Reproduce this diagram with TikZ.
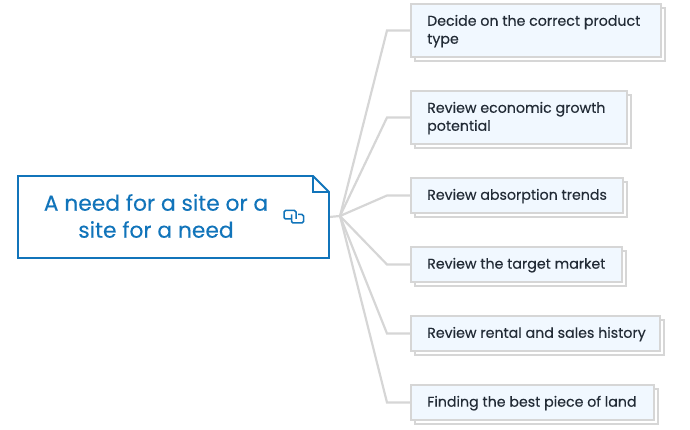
\documentclass[tikz,border=0pt]{standalone}
\usepackage{fontspec}
\setmainfont[RawFeature={embolden=0.2}]{Poppins}
\usetikzlibrary{shadows}
\definecolor{rootblue}{RGB}{17,116,186}
\definecolor{linegray}{RGB}{214,214,214}
\definecolor{boxfill}{RGB}{241,248,255}
\definecolor{inktext}{RGB}{34,43,54}
\tikzset{
  x=1pt,y=-1pt,
  detailbox/.style={draw=linegray,line width=2pt,fill=boxfill,anchor=north west,
    inner sep=0pt,outer sep=0pt,
    copy shadow={shadow xshift=4pt,shadow yshift=-4pt,draw=linegray,fill=white,opacity=1}},
  detailtext/.style={anchor=west,inner sep=0pt,align=left,text=inktext,
    font=\fontsize{14.2}{18}\selectfont},
  rootbox/.style={anchor=north west,inner sep=0pt,outer sep=0pt},
  roottext/.style={anchor=center,inner sep=0pt,text=rootblue,align=center,
    font=\fontsize{21.8}{27}\selectfont},
  link/.style={draw=linegray,line width=2.2pt},
  rootline/.style={draw=rootblue,line width=1.8pt},
  iconline/.style={draw=rootblue,line width=1.5pt,rounded corners=1.5pt}
}
\begin{document}
\begin{tikzpicture}
  \useasboundingbox (0,0) rectangle (690,430);
  % root topic
  \node[rootbox,minimum width=311pt,minimum height=82pt] (root) at (18,176) {};
  \node[roottext] (title) at (156,216) {A need for a site or a\\site for a need};
  \coordinate (hub) at (340,216);
  \draw[link] (root.east) -- (hub);
  % detail boxes
  \foreach \i/\y/\w/\h/\t in {1/4/250/53/{Decide on the correct product\\type},2/91/216/53/{Review economic growth\\potential},3/178/212/35/{Review absorption trends},4/247/211/35/{Review the target market},5/316/249/35/{Review rental and sales history},6/385/243/35/{Finding the best piece of land}}
  {
    \node[detailbox,minimum width=\w pt,minimum height=\h pt] (d\i) at (411,\y) {};
    \node[detailtext] (t\i) at ([xshift=16pt,yshift=-0.7pt]d\i.west) {\t};
    \draw[link] (hub) -- ([xshift=-24pt]d\i.west) -- (d\i.west);
  }
  % note outline with folded corner
  \draw[rootline] (root.south west) -- (root.north west) -- ([xshift=-16pt]root.north east) -- ([yshift=-16pt]root.north east) -- (root.south east) -- cycle;
  \draw[rootline] ([xshift=-16pt]root.north east) -- ([xshift=-16pt,yshift=-16pt]root.north east) -- ([yshift=-16pt]root.north east);
  % link icon
  \draw[iconline] (291,219) -- (284,219) -- (284,210.5) -- (296,210.5) -- (296,219);
  \draw[iconline] (298,214.5) -- (303.5,214.5) -- (303.5,223) -- (291.5,223) -- (291.5,214.5);
\end{tikzpicture}
\end{document}
